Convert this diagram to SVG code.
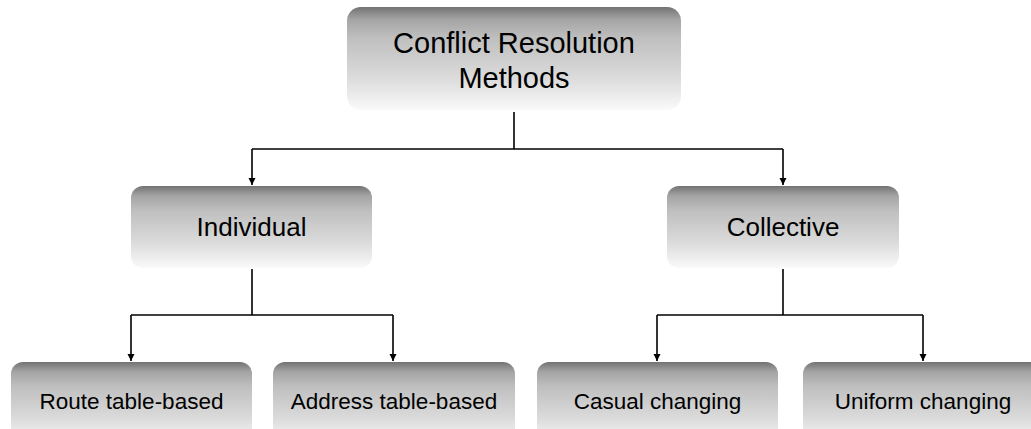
<svg xmlns="http://www.w3.org/2000/svg" width="1031" height="429" viewBox="0 0 1031 429">
  <defs>
    <linearGradient id="boxFill" x1="0" y1="0" x2="0" y2="1">
      <stop offset="0" stop-color="#737373"/>
      <stop offset="0.12" stop-color="#a4a4a4"/>
      <stop offset="0.3" stop-color="#bfbfbf"/>
      <stop offset="0.7" stop-color="#dcdcdc"/>
      <stop offset="0.92" stop-color="#f2f2f2"/>
      <stop offset="1" stop-color="#fafafa"/>
    </linearGradient>
    <marker id="arrow" viewBox="0 0 10 10" refX="10" refY="5" markerWidth="7" markerHeight="9" markerUnits="userSpaceOnUse" orient="auto">
      <path d="M0,0 L10,5 L0,10 Z" fill="#000"/>
    </marker>
  </defs>
  <style>
    .box { fill: url(#boxFill); }
    .label { font-family: "Liberation Sans", Arial, sans-serif; fill: #000; text-anchor: middle; }
    .l1 { font-size: 29px; }
    .l2 { font-size: 26px; }
    .l3 { font-size: 22.5px; }
    .conn { fill: none; stroke: #000; stroke-width: 1.6; }
  </style>
  <rect width="1031" height="429" fill="#fff"/>

  <g id="connectors">
    <path class="conn" d="M514,112 V149"/>
    <path class="conn" d="M252,149 H783"/>
    <path class="conn" d="M252,149 V185" marker-end="url(#arrow)"/>
    <path class="conn" d="M783,149 V185" marker-end="url(#arrow)"/>
    <path class="conn" d="M252,269 V315"/>
    <path class="conn" d="M131,315 H393"/>
    <path class="conn" d="M131,315 V361" marker-end="url(#arrow)"/>
    <path class="conn" d="M393,315 V361" marker-end="url(#arrow)"/>
    <path class="conn" d="M783,269 V315"/>
    <path class="conn" d="M657,315 H923"/>
    <path class="conn" d="M657,315 V361" marker-end="url(#arrow)"/>
    <path class="conn" d="M923,315 V361" marker-end="url(#arrow)"/>
  </g>

  <g id="root">
    <rect class="box" x="347" y="7" width="334" height="103" rx="14"/>
    <text class="label l1" x="514" y="53">Conflict Resolution</text>
    <text class="label l1" x="514" y="88">Methods</text>
  </g>

  <g id="individual">
    <rect class="box" x="131" y="186" width="241" height="82" rx="12"/>
    <text class="label l2" x="251.5" y="236">Individual</text>
  </g>

  <g id="collective">
    <rect class="box" x="667" y="186" width="232" height="82" rx="12"/>
    <text class="label l2" x="783" y="236">Collective</text>
  </g>

  <g id="route-table">
    <rect class="box" x="11" y="362" width="241" height="82" rx="12"/>
    <text class="label l3" x="131.5" y="409">Route table-based</text>
  </g>

  <g id="address-table">
    <rect class="box" x="273" y="362" width="242" height="82" rx="12"/>
    <text class="label l3" x="394" y="409">Address table-based</text>
  </g>

  <g id="casual">
    <rect class="box" x="537" y="362" width="241" height="82" rx="12"/>
    <text class="label l3" x="657.5" y="409">Casual changing</text>
  </g>

  <g id="uniform">
    <rect class="box" x="803" y="362" width="241" height="82" rx="12"/>
    <text class="label l3" x="923" y="409">Uniform changing</text>
  </g>
</svg>
